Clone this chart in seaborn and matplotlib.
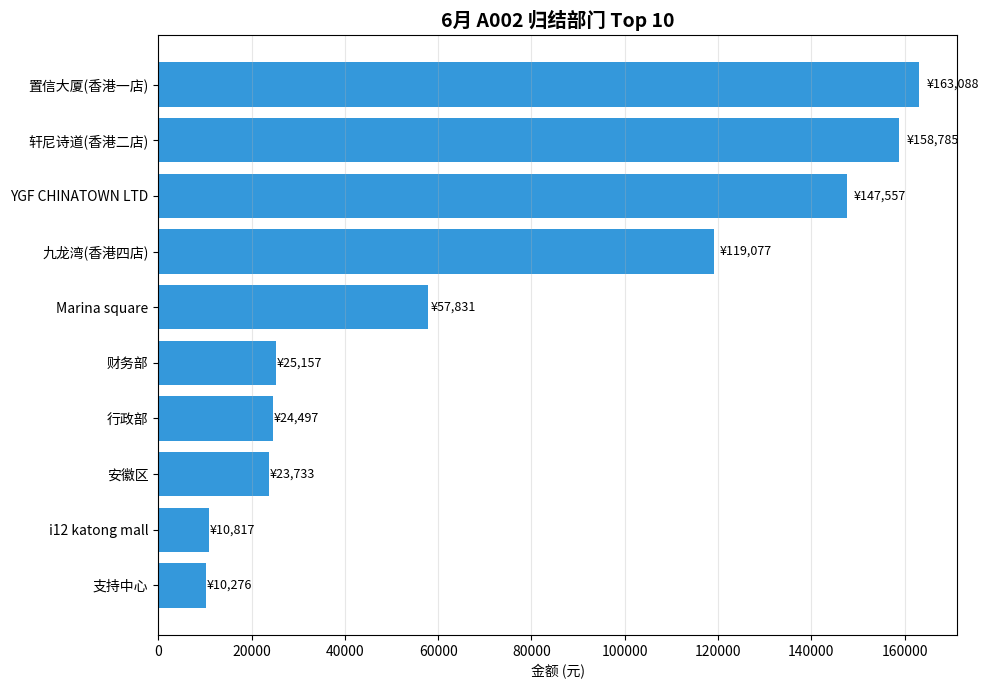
import matplotlib
matplotlib.use("Agg")
import matplotlib.pyplot as plt
import seaborn as sns
import pandas as pd

departments = ['置信大厦(香港一店)', '轩尼诗道(香港二店)', 'YGF CHINATOWN LTD', '九龙湾(香港四店)',
               'Marina square', '财务部', '行政部', '安徽区', 'i12 katong mall', '支持中心']
amounts = [163088, 158785, 147557, 119077, 57831, 25157, 24497, 23733, 10817, 10276]

plt.rcParams['font.family'] = ['Noto Sans CJK SC', 'DejaVu Sans']
plt.rcParams['axes.unicode_minus'] = False

df = pd.DataFrame({'部门': departments, '金额': amounts})

fig = plt.figure(figsize=(9.89, 6.9), dpi=100)
ax = fig.add_axes([0.16, 0.0797, 0.8077, 0.8696])

sns.barplot(data=df, x='金额', y='部门', orient='h', color='#3498db',
            saturation=1, width=0.8, ax=ax)

# go back to matplotlib's usual margins
ax.autoscale(enable=True, axis='y')
ax.margins(y=0.05)

for i, v in enumerate(amounts):
    ax.text(v * 1.01, i, f'¥{v:,}', va='center', ha='left', fontsize=9)

ax.set_title('6月 A002 归结部门 Top 10', fontsize=14, fontweight='bold')
ax.set_xlabel('金额 (元)', fontsize=10)
ax.set_ylabel('')
ax.tick_params(axis='both', labelsize=10)
ax.grid(axis='x', alpha=0.3)
for s in ax.spines.values():
    s.set_visible(True)
    s.set_color('black')

fig.savefig('out.png', dpi=100)
